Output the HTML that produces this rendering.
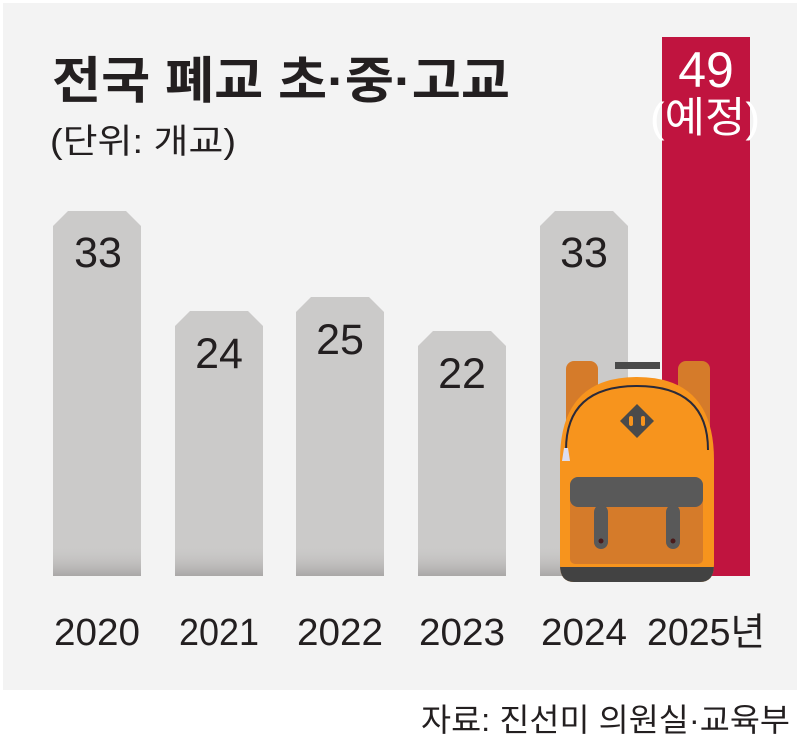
<!DOCTYPE html>
<html><head><meta charset="utf-8"><style>
body{margin:0;background:#fff;}
svg{display:block;font-family:"Liberation Sans","Noto Sans CJK KR",sans-serif;}
</style></head><body>
<svg width="800" height="743" viewBox="0 0 800 743">
<defs>
<linearGradient id="sh" x1="0" y1="0" x2="0" y2="1">
<stop offset="0" stop-color="#cccbca" stop-opacity="0"/>
<stop offset="1" stop-color="#a9a7a6"/>
</linearGradient>
</defs>
<rect x="3" y="3" width="794" height="687" fill="#f3f3f3"/>
<text x="52" y="98" font-size="50" font-weight="bold" fill="#231f20" textLength="458" lengthAdjust="spacingAndGlyphs">전국 폐교 초·중·고교</text>
<text x="50" y="153" font-size="34" fill="#231f20" textLength="186" lengthAdjust="spacingAndGlyphs">(단위: 개교)</text>
<g fill="#cbcac9">
<polygon points="53,226 68,211 126,211 141,226 141,576 53,576"/>
<polygon points="175,326 190,311 248,311 263,326 263,576 175,576"/>
<polygon points="296,312 311,297 369,297 384,312 384,576 296,576"/>
<polygon points="418,346 433,331 491,331 506,346 506,576 418,576"/>
<polygon points="540,226 555,211 613,211 628,226 628,576 540,576"/>
</g>
<g fill="url(#sh)">
<rect x="53" y="545" width="88" height="31"/><rect x="175" y="545" width="88" height="31"/>
<rect x="296" y="545" width="88" height="31"/><rect x="418" y="545" width="88" height="31"/>
<rect x="540" y="545" width="88" height="31"/>
</g>
<polygon points="662,37 750,37 750,576 662,576" fill="#c0143f"/>
<g font-size="43" fill="#231f20" text-anchor="middle">
<text x="98" y="267">33</text><text x="219" y="368">24</text><text x="340" y="354">25</text>
<text x="462" y="388">22</text><text x="584" y="267">33</text>
</g>
<text x="706" y="87" font-size="50" fill="#fff" text-anchor="middle">49</text>
<text x="705" y="132" font-size="42" fill="#fff" text-anchor="middle" textLength="110" lengthAdjust="spacingAndGlyphs">(예정)</text>
<!-- backpack -->
<g>
<rect x="566" y="361" width="32" height="80" rx="8" fill="#d57b2a"/>
<rect x="678" y="361" width="32" height="80" rx="8" fill="#d57b2a"/>
<rect x="615" y="362" width="45" height="7" fill="#4a4a4a"/>
<path d="M560,460 Q560,377 637,377 Q714,377 714,460 L714,565 Q714,582 700,582 L574,582 Q560,582 560,565 Z" fill="#f7941d"/>
<path d="M560,567 L714,567 L714,565 Q714,582 700,582 L574,582 Q560,582 560,565 Z" fill="#424242"/>
<path d="M566,450 Q566,386 637,386 Q708,386 708,450" fill="none" stroke="#2a2a3a" stroke-width="2"/>
<polygon points="564,448 568,448 570,461 562,461" fill="#dde"/>
<polygon points="637,404 654,421 637,438 620,421" fill="#4a4a4a"/>
<rect x="629" y="416" width="4" height="10" rx="2" fill="#f7941d"/><rect x="641" y="416" width="4" height="10" rx="2" fill="#f7941d"/>
<rect x="570" y="480" width="133" height="84" rx="5" fill="#d57b2a"/>
<rect x="570" y="477" width="133" height="30" rx="8" fill="#595959"/>
<rect x="594" y="505" width="14" height="44" rx="7" fill="#595959"/>
<rect x="666" y="505" width="14" height="44" rx="7" fill="#595959"/>
<circle cx="601" cy="541" r="2.5" fill="#4a1a1a"/><circle cx="673" cy="541" r="2.5" fill="#4a1a1a"/>
</g>
<g font-size="38" fill="#231f20" text-anchor="middle">
<text x="97" y="645" textLength="86" lengthAdjust="spacingAndGlyphs">2020</text>
<text x="219" y="645" textLength="80" lengthAdjust="spacingAndGlyphs">2021</text>
<text x="340" y="645" textLength="86" lengthAdjust="spacingAndGlyphs">2022</text>
<text x="462" y="645" textLength="86" lengthAdjust="spacingAndGlyphs">2023</text>
<text x="584" y="645" textLength="86" lengthAdjust="spacingAndGlyphs">2024</text>
<text x="706" y="645" textLength="118" lengthAdjust="spacingAndGlyphs">2025년</text>
</g>
<text x="790" y="731" font-size="32" fill="#231f20" text-anchor="end" textLength="369" lengthAdjust="spacingAndGlyphs">자료: 진선미 의원실·교육부</text>
</svg>
</body></html>
